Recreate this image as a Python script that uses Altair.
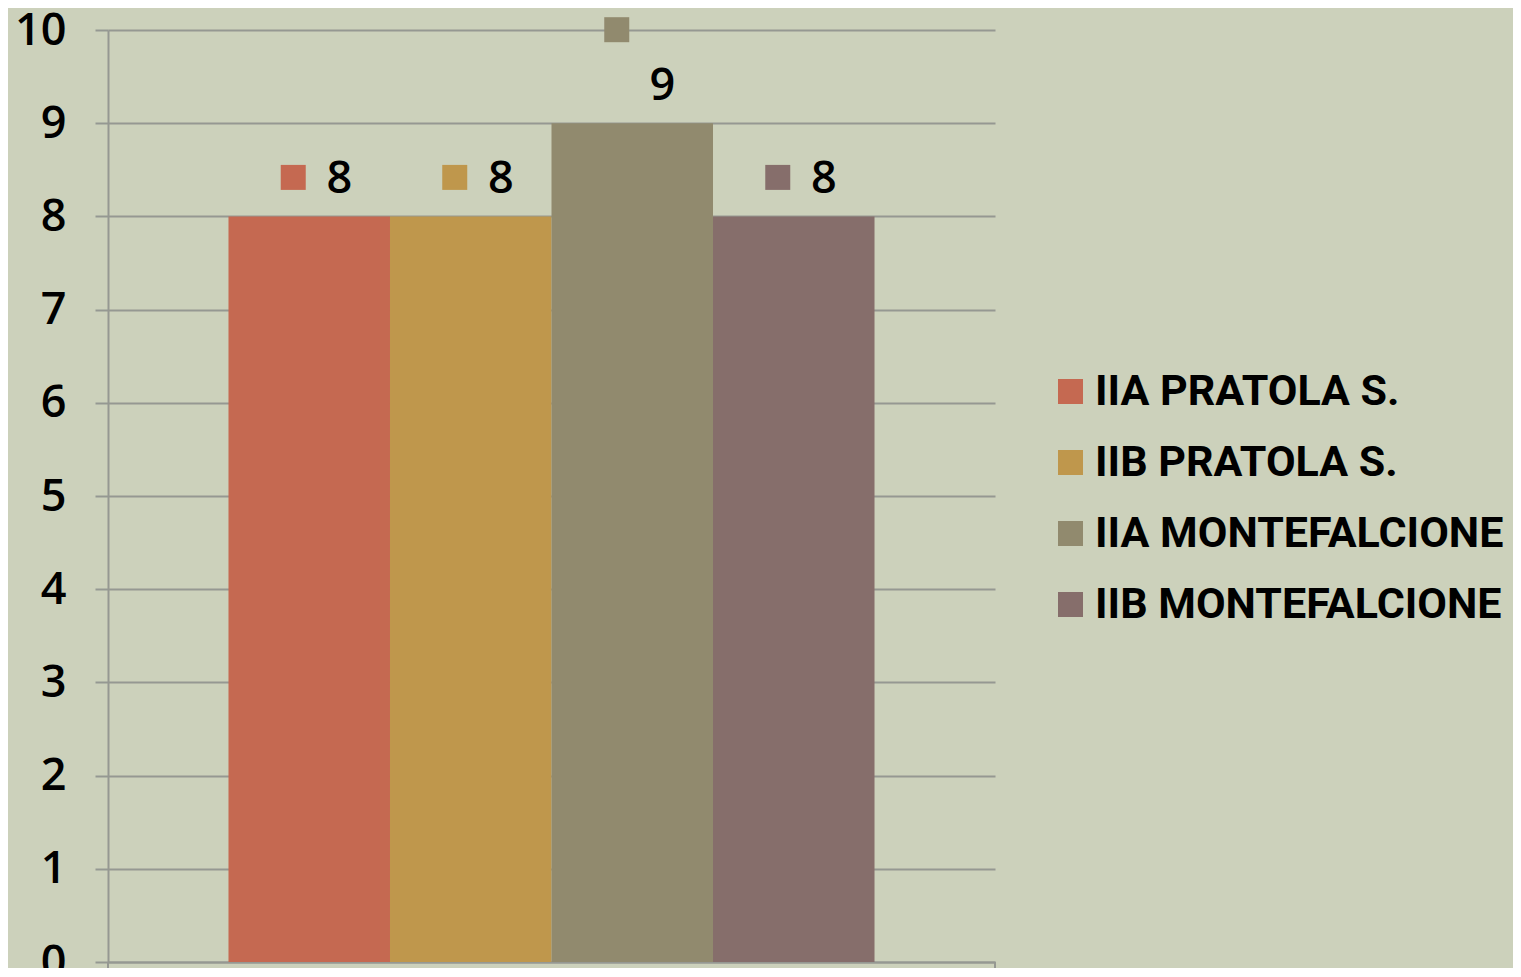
import altair as alt
import pandas as pd

series = ["IIA PRATOLA S.", "IIB PRATOLA S.", "IIA MONTEFALCIONE", "IIB MONTEFALCIONE"]
values = [8, 8, 9, 8]
colors = ["#C56951", "#BF974C", "#918A6E", "#866E6B"]
y_ticks = [0, 1, 2, 3, 4, 5, 6, 7, 8, 9, 10]

df = pd.DataFrame({"series": series, "value": values})

GRID = "#959892"
NUM_FONT = "Open Sans, DejaVu Sans, sans-serif"
LEG_FONT = "Roboto, Liberation Sans, sans-serif"

x_enc = alt.X("series:N", sort=series,
              scale=alt.Scale(paddingInner=0, paddingOuter=0.746),
              axis=alt.Axis(labels=False, ticks=False, title=None, domain=True,
                            domainColor=GRID, domainWidth=2, grid=False))
y_enc = alt.Y("value:Q", scale=alt.Scale(domain=[0, 10], nice=False),
              axis=alt.Axis(values=y_ticks, title=None, grid=True, gridColor=GRID,
                            gridWidth=2, domain=True, domainColor=GRID, domainWidth=2,
                            ticks=True, tickSize=13, tickColor=GRID, tickWidth=2,
                            labelFont=NUM_FONT, labelFontSize=45, labelColor="black",
                            labelPadding=29, labelFontWeight=600))
color_enc = alt.Color("series:N", sort=series,
                      scale=alt.Scale(domain=series, range=colors),
                      legend=alt.Legend(orient="none", legendX=941, legendY=340, title=None,
                                        symbolType="square", symbolSize=625,
                                        symbolStrokeWidth=0, symbolOpacity=1,
                                        labelFont=LEG_FONT, labelFontSize=43,
                                        labelFontWeight="bold", labelColor="black",
                                        labelOffset=3, labelLimit=0, rowPadding=27,
                                        padding=0))

base = alt.Chart(df)

bars = base.mark_bar(opacity=1).encode(x=x_enc, y=y_enc, color=color_enc)

squares_a = base.transform_filter(alt.datum.series != "IIA MONTEFALCIONE").mark_point(
    shape="square", filled=True, size=625, opacity=1, strokeWidth=0,
    xOffset=-16, yOffset=-39).encode(x=x_enc, y=y_enc, color=color_enc)
squares_b = base.transform_filter(alt.datum.series == "IIA MONTEFALCIONE").mark_point(
    shape="square", filled=True, size=625, opacity=1, strokeWidth=0,
    xOffset=-15.5, yOffset=-93.5).encode(x=x_enc, y=y_enc, color=color_enc)

labels = base.mark_text(font=NUM_FONT, fontSize=45, fontWeight=600, color="black",
                        align="center", baseline="middle", dx=30, dy=-37).encode(
    x=x_enc, y=y_enc, text=alt.Text("value:Q"))

edge_ticks = base.mark_rule(color=GRID, strokeWidth=2).encode(
    x=alt.value(0), y=alt.value(932), y2=alt.value(960))
edge_ticks2 = base.mark_rule(color=GRID, strokeWidth=2).encode(
    x=alt.value(887), y=alt.value(932), y2=alt.value(960))

chart = alt.layer(bars, squares_a, squares_b, labels, edge_ticks, edge_ticks2).properties(
    width=887, height=932,
    autosize=alt.AutoSizeParams(type="none"),
    padding={"left": 100, "top": 22, "right": 518, "bottom": 6},
    background="#CCD1BB",
).configure_view(stroke=None)

chart.save("out.html", embed_options={"renderer": "svg", "actions": False})
